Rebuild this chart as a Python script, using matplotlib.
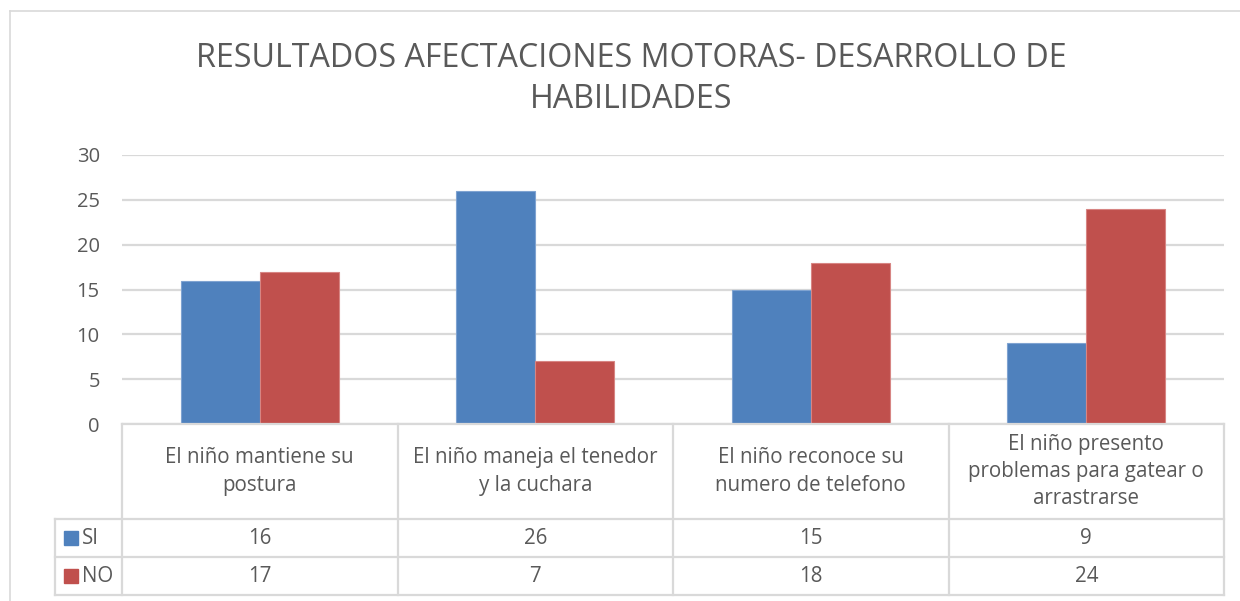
import matplotlib
matplotlib.use("Agg")
import matplotlib.pyplot as plt
from matplotlib.lines import Line2D
from matplotlib.patches import Rectangle
import numpy as np

title = "RESULTADOS AFECTACIONES MOTORAS- DESARROLLO DE\nHABILIDADES"
categories = [
    "El niño mantiene su\npostura",
    "El niño maneja el tenedor\ny la cuchara",
    "El niño reconoce su\nnumero de telefono",
    "El niño presento\nproblemas para gatear o\narrastrarse",
]
series_names = ["SI", "NO"]
si_values = [16, 26, 15, 9]
no_values = [17, 7, 18, 24]
yticks = [0, 5, 10, 15, 20, 25, 30]

colors = ["#4F81BD", "#C0504D"]
edge_colors = ["#7FA3D1", "#D78583"]
text_color = "#595959"
grid_color = "#D9D9D9"

W, H = 1240, 601
fig = plt.figure(figsize=(W / 100, H / 100), dpi=100)
plt.rcParams['font.family'] = ['Open Sans', 'DejaVu Sans']

def fx(px):
    return px / W

def fy(py):
    return 1 - py / H

# plot area
left, right, top, bottom = 122, 1224, 155, 424
ax = fig.add_axes([fx(left), fy(bottom), fx(right - left), (bottom - top) / H])
n = len(categories)
x = np.arange(n)
bw = 0.287
ax.bar(x - bw / 2, si_values, bw, color=colors[0], edgecolor=edge_colors[0], linewidth=0.8, zorder=3)
ax.bar(x + bw / 2, no_values, bw, color=colors[1], edgecolor=edge_colors[1], linewidth=0.8, zorder=3)
ax.set_xlim(-0.5, n - 0.5)
ax.set_ylim(0, 30)
ax.set_yticks(yticks)
ax.set_yticklabels([str(v) for v in yticks])
ax.tick_params(axis='y', length=0, pad=16, labelsize=14.5, labelcolor=text_color)
ax.tick_params(axis='x', length=0, labelbottom=False)
for s in ax.spines.values():
    s.set_visible(False)
ax.yaxis.grid(True, color=grid_color, linewidth=1.6, zorder=0)
ax.set_axisbelow(True)

# outer border
fig.add_artist(Line2D([fx(10), fx(10)], [fy(11), fy(601)], color=grid_color, lw=1.2))
fig.add_artist(Line2D([fx(10), fx(1240)], [fy(11), fy(11)], color=grid_color, lw=1.2))

# title
fig.text(fx(631), fy(79), title, ha='center', va='center', fontsize=23.2,
         color=text_color, linespacing=1.34)

# data table
cat_edges = [left + i * (right - left) / n for i in range(n + 1)]
row_header_bot = 519
row_si_bot = 557
row_no_bot = 595
leg_left = 55
lw = 1.6
fs = 14.8

def hline(y, x0, x1):
    fig.add_artist(Line2D([fx(x0), fx(x1)], [fy(y), fy(y)], color=grid_color, lw=lw))

def vline(x_, y0, y1):
    fig.add_artist(Line2D([fx(x_), fx(x_)], [fy(y0), fy(y1)], color=grid_color, lw=lw))

hline(bottom, left, right)
hline(row_header_bot, leg_left, right)
hline(row_si_bot, leg_left, right)
hline(row_no_bot, leg_left, right)
for e in cat_edges:
    vline(e, bottom, row_no_bot)
vline(leg_left, row_header_bot, row_no_bot)

for i, cat in enumerate(categories):
    cx = (cat_edges[i] + cat_edges[i + 1]) / 2
    fig.text(fx(cx), fy((bottom + row_header_bot) / 2), cat, ha='center', va='center',
             fontsize=fs, color=text_color, linespacing=1.38)
    fig.text(fx(cx), fy((row_header_bot + row_si_bot) / 2), str(si_values[i]), ha='center',
             va='center', fontsize=fs, color=text_color)
    fig.text(fx(cx), fy((row_si_bot + row_no_bot) / 2), str(no_values[i]), ha='center',
             va='center', fontsize=fs, color=text_color)

for j, (name, rb) in enumerate(zip(series_names, [(row_header_bot, row_si_bot), (row_si_bot, row_no_bot)])):
    cy = (rb[0] + rb[1]) / 2
    fig.add_artist(Rectangle((fx(64), fy(cy + 7)), fx(14), 14 / H, color=colors[j],
                             transform=fig.transFigure))
    fig.text(fx(82), fy(cy), name, ha='left', va='center', fontsize=fs, color=text_color)

fig.savefig("out.png", dpi=100, facecolor="white")
